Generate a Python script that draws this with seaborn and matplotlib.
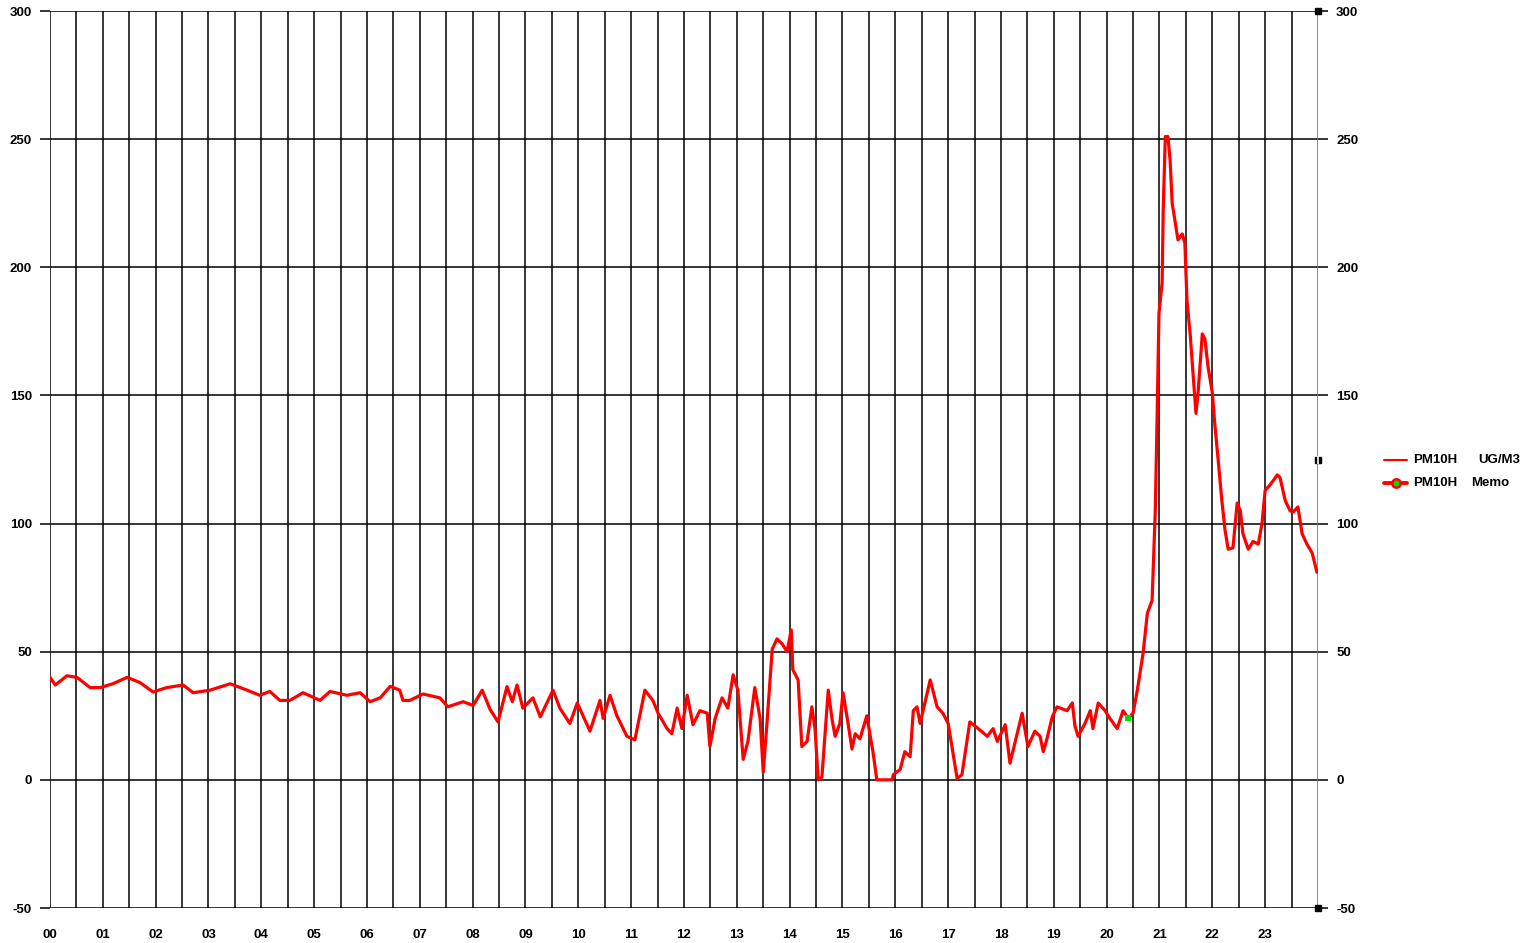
import numpy as np
import pandas as pd
import matplotlib
matplotlib.use("Agg")
import matplotlib.pyplot as plt
from matplotlib.lines import Line2D
import seaborn as sns

# PM10 readings (hour of day, ug/m3)
hours = [0.00, 0.10, 0.32, 0.51, 0.76, 0.95, 1.19, 1.46, 1.70, 1.95, 2.21, 2.52,
         2.71, 3.03, 3.41, 3.73, 3.97, 4.16, 4.35, 4.54, 4.79, 5.11, 5.30, 5.62,
         5.87, 6.06, 6.25, 6.44, 6.62, 6.68, 6.81, 7.06, 7.38, 7.53, 7.82, 8.01,
         8.18, 8.33, 8.48, 8.65, 8.75, 8.84, 8.95, 9.14, 9.28, 9.52, 9.65, 9.84,
         9.98, 10.22, 10.41, 10.47, 10.60, 10.73, 10.92, 11.07, 11.26, 11.41, 11.51,
         11.68, 11.77, 11.87, 11.96, 12.06, 12.17, 12.30, 12.44, 12.49, 12.59, 12.72,
         12.83, 12.93, 13.02, 13.12, 13.21, 13.34, 13.44, 13.50, 13.57, 13.67, 13.76,
         13.86, 13.95, 14.03, 14.06, 14.16, 14.23, 14.33, 14.42, 14.48, 14.54, 14.61,
         14.73, 14.80, 14.86, 14.95, 15.01, 15.09, 15.18, 15.24, 15.33, 15.46, 15.58,
         15.65, 15.94, 15.96, 16.09, 16.18, 16.28, 16.34, 16.41, 16.47, 16.66, 16.79,
         16.90, 17.00, 17.17, 17.26, 17.41, 17.57, 17.74, 17.85, 17.93, 18.08, 18.17,
         18.27, 18.40, 18.51, 18.64, 18.74, 18.80, 18.87, 18.97, 19.06, 19.25, 19.35,
         19.40, 19.46, 19.59, 19.69, 19.74, 19.84, 19.97, 20.06, 20.20, 20.31, 20.41,
         20.50, 20.58, 20.69, 20.77, 20.86, 20.92, 20.95, 20.99, 21.05, 21.07, 21.11,
         21.16, 21.20, 21.24, 21.29, 21.35, 21.43, 21.48, 21.52, 21.58, 21.64, 21.69,
         21.73, 21.81, 21.86, 21.92, 22.00, 22.05, 22.11, 22.18, 22.24, 22.30, 22.39,
         22.47, 22.53, 22.58, 22.68, 22.77, 22.87, 22.94, 23.00, 23.09, 23.23, 23.28,
         23.38, 23.47, 23.53, 23.62, 23.70, 23.79, 23.89, 23.98]
pm10 = [40, 37, 40.6, 40, 36, 36, 37.5, 40, 38, 34.3, 36, 37,
        34, 35, 37.5, 35, 33, 34.5, 31, 31, 34, 31, 34.5, 33,
        34, 30.5, 32, 36.5, 35, 31, 31, 33.5, 32, 28.5, 30.5, 29,
        35, 27.5, 22.6, 36.4, 30.5, 37, 28, 32, 24.6, 35, 28, 22,
        30, 19, 31, 24, 33, 25, 17, 15.6, 35, 31, 26,
        20, 18, 28, 20, 33, 21.5, 27, 26, 13, 24, 32,
        28, 41, 35, 8, 15, 36, 24, 3, 22, 51, 55,
        53, 50, 58.5, 43, 39, 13, 15, 28.5, 20, 0, 1,
        35, 24, 17, 22, 34, 24, 12, 18, 16, 25, 10.5,
        0, 0, 2, 4, 11, 9, 27, 28.5, 22, 39, 28.5,
        26, 22, 0.5, 2, 22.6, 20, 17, 20, 15, 21.5, 6.5,
        15, 26, 13, 19, 17, 11, 16, 24.6, 28.5, 27, 30,
        21, 17, 22, 27, 20, 30, 27, 24, 20, 27, 24,
        26, 35, 49.5, 65, 70, 105, 136.5, 182, 194, 222, 251,
        251, 242, 225, 218.5, 210.7, 213, 209.5, 187, 174, 157, 143,
        151, 174, 172, 161, 151, 138, 125, 109, 97.5, 90, 90.5,
        108, 105, 96, 90, 93, 92, 100, 113, 115, 119, 118,
        109, 105, 104.5, 106.5, 96, 92, 88.5, 81]

hour_labels = ["%02d" % h for h in range(24)]
y_ticks = [-50, 0, 50, 100, 150, 200, 250, 300]
memo_hour = 20.41
memo_value = 24

df = pd.DataFrame({"hour": hours, "pm10": pm10})

sns.set_style("white")
plt.rcParams["font.family"] = ["Liberation Sans", "DejaVu Sans"]
plt.rcParams["font.weight"] = "bold"
plt.rcParams["text.color"] = "black"
plt.rcParams["xtick.color"] = "black"
plt.rcParams["ytick.color"] = "black"

fig = plt.figure(figsize=(15.28, 9.43), dpi=100)
ax = fig.add_axes([50 / 1528, 1 - 908 / 943, 1268 / 1528, 897 / 943])

# grid
for h in np.arange(0, 24, 0.5):
    ax.axvline(h, color="black", lw=1.1, zorder=1)
for v in y_ticks:
    ax.axhline(v, color="black", lw=1.1, zorder=1)
ax.axvline(24, color="#6e6e6e", lw=1.1, zorder=1)

sns.lineplot(data=df, x="hour", y="pm10", color="#ff0000", lw=2.3, ax=ax, zorder=3)
ax.scatter([memo_hour], [memo_value], marker="s", s=14, color="#00e000", zorder=4, linewidths=0)

# cursor glyphs on the right edge
ax.plot([24, 24], [300, -50], marker="s", ms=5, color="black", ls="none",
        clip_on=False, zorder=5)
ax.plot([24], [125], marker="s", ms=5, color="black", ls="none", clip_on=False, zorder=5)
ax.plot([24], [125], marker="|", ms=6, mew=1.2, color="white", ls="none", clip_on=False, zorder=6)

ax.set_xlim(0, 24)
ax.set_ylim(-50, 300)
for s in ax.spines.values():
    s.set_visible(False)

ax.set_xticks(np.arange(0, 24, 0.5))
ax.set_xticklabels([hour_labels[int(t)] if t == int(t) else "" for t in np.arange(0, 24, 0.5)])
ax.set_yticks(y_ticks)
ax.set_yticklabels([str(v) for v in y_ticks])
ax.tick_params(axis="x", direction="out", length=7, width=1.1, color="black",
               pad=8, labelsize=9.5, labelcolor="black")
ax.tick_params(axis="y", direction="out", length=7, width=1.1, color="black",
               pad=6, labelsize=9.5, labelcolor="black",
               left=True, right=True, labelleft=True, labelright=True)
for lab in ax.get_xticklabels() + ax.get_yticklabels():
    lab.set_fontweight("bold")
ax.set_xlabel("")
ax.set_ylabel("")

# legend
fig.add_artist(Line2D([1384 / 1528, 1407 / 1528], [1 - 460 / 943] * 2, color="#ff0000", lw=1.5))
fig.add_artist(Line2D([1384 / 1528, 1407 / 1528], [1 - 483 / 943] * 2, color="#ff0000", lw=2.8))
fig.add_artist(Line2D([1395.5 / 1528], [1 - 483 / 943], marker="o", ms=6, color="#ff0000",
                      markerfacecolor="#00e000", markeredgewidth=1.8))
fig.text(1413 / 1528, 1 - 460 / 943, "PM10H", fontsize=9.5, fontweight="bold", va="center")
fig.text(1478 / 1528, 1 - 460 / 943, "UG/M3", fontsize=9.5, fontweight="bold", va="center")
fig.text(1413 / 1528, 1 - 483 / 943, "PM10H", fontsize=9.5, fontweight="bold", va="center")
fig.text(1471 / 1528, 1 - 483 / 943, "Memo", fontsize=9.5, fontweight="bold", va="center")

fig.savefig("out.png", dpi=100, facecolor="white")
